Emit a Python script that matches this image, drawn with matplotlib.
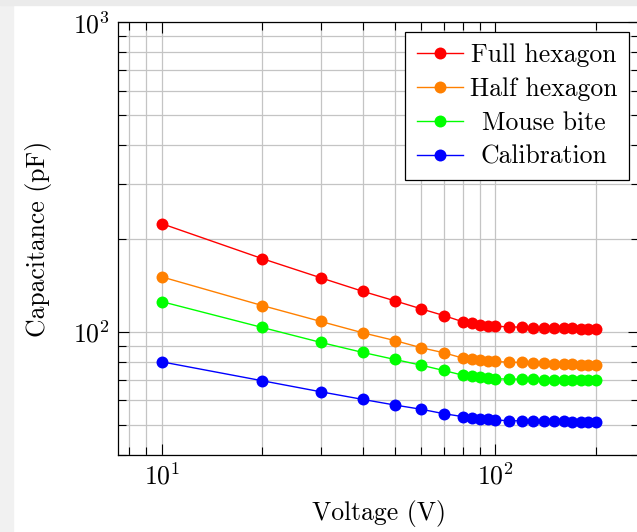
import matplotlib
matplotlib.use("Agg")
import matplotlib.pyplot as plt
from matplotlib.patches import Rectangle
from matplotlib.ticker import NullFormatter

plt.rcParams['font.family'] = 'serif'
plt.rcParams['font.serif'] = ['cmr10']
plt.rcParams['mathtext.fontset'] = 'cm'
plt.rcParams['axes.formatter.use_mathtext'] = True

# Data
voltage = [10, 20, 30, 40, 50, 60, 70, 80, 85, 90, 95, 100,
           110, 120, 130, 140, 150, 160, 170, 180, 190, 200]
full_hexagon = [223.6, 172.4, 149.4, 135.2, 125.9, 118.6, 112.9, 107.7, 106.6, 105.6, 104.8, 104.2,
                103.8, 103.5, 103.2, 103.0, 103.0, 102.7, 102.7, 102.5, 102.5, 102.3]
half_hexagon = [150.5, 121.6, 108.0, 99.3, 93.7, 88.8, 85.6, 82.2, 81.6, 81.0, 80.6, 80.2,
                79.8, 79.6, 79.4, 79.2, 79.0, 78.8, 78.6, 78.4, 78.2, 78.0]
mouse_bite = [125.2, 103.3, 92.4, 85.8, 81.4, 78.0, 75.0, 72.4, 71.9, 71.2, 70.8, 70.5,
              70.4, 70.3, 70.2, 70.1, 70.1, 70.0, 69.9, 69.9, 69.8, 69.7]
calibration = [80.0, 69.5, 64.0, 60.5, 58.0, 56.2, 54.4, 53.2, 52.6, 52.4, 52.1, 51.9,
               51.6, 51.6, 51.5, 51.5, 51.4, 51.4, 51.3, 51.2, 51.2, 51.1]

series = [
    ("Full hexagon", full_hexagon, '#ff0000'),
    ("Half hexagon", half_hexagon, '#ff8000'),
    ("Mouse bite", mouse_bite, '#00ff00'),
    ("Calibration", calibration, '#0000ff'),
]

fig = plt.figure(figsize=(6.37, 5.32), dpi=100)
# light strips from the screenshot edges
fig.patches.append(Rectangle((0, 0), 13 / 637, 1, transform=fig.transFigure,
                             color='#f1f1f1', zorder=-1))
fig.patches.append(Rectangle((0, 1 - 5 / 532), 1, 5 / 532, transform=fig.transFigure,
                             color='#ebebeb', zorder=-1))

ax = fig.add_axes([118.3 / 637, 1 - 455 / 532, (639.3 - 118.3) / 637, (455 - 22.3) / 532])

for name, vals, col in series:
    ax.plot(voltage, vals, color=col, lw=1.0, marker='o', markersize=8.6,
            markeredgewidth=0, label=name)

ax.set_xscale('log')
ax.set_yscale('log')
ax.set_xlim(7.41, 269.9)
ax.set_ylim(40, 1000)
ax.xaxis.set_minor_formatter(NullFormatter())
ax.yaxis.set_minor_formatter(NullFormatter())

ax.grid(True, which='both', color='#c4c4c4', lw=0.9)
ax.set_axisbelow(True)
ax.tick_params(which='both', direction='in', top=True, right=True, color='black',
               labelsize=18.5, pad=6)
ax.tick_params(which='major', length=8, width=0.8)
ax.tick_params(which='minor', length=5.5, width=0.8)
for s in ax.spines.values():
    s.set_linewidth(0.9)

ax.set_xlabel('Voltage (V)', fontsize=18.5)
ax.set_ylabel('Capacitance (pF)', fontsize=18.5)
ax.xaxis.set_label_coords(0.5, -0.105)
ax.yaxis.set_label_coords(-0.127, 0.5)

leg = ax.legend(loc='upper right', bbox_to_anchor=(628.5 / 637, 1 - 31.7 / 532),
                bbox_transform=fig.transFigure, borderaxespad=0, fontsize=18.5,
                fancybox=False, framealpha=1, edgecolor='black', handlelength=1.8,
                handletextpad=0.27, labelspacing=0.4, borderpad=0.44)
leg.get_frame().set_linewidth(0.9)

# center legend entries like pgfplots
fig.canvas.draw()
renderer = fig.canvas.get_renderer()
widths = [t.get_window_extent(renderer).width for t in leg.get_texts()]
maxw = max(widths)
for t, w in zip(leg.get_texts(), widths):
    t.set_position(((maxw - w) / 2, 0))

fig.savefig('out.png', dpi=100)
